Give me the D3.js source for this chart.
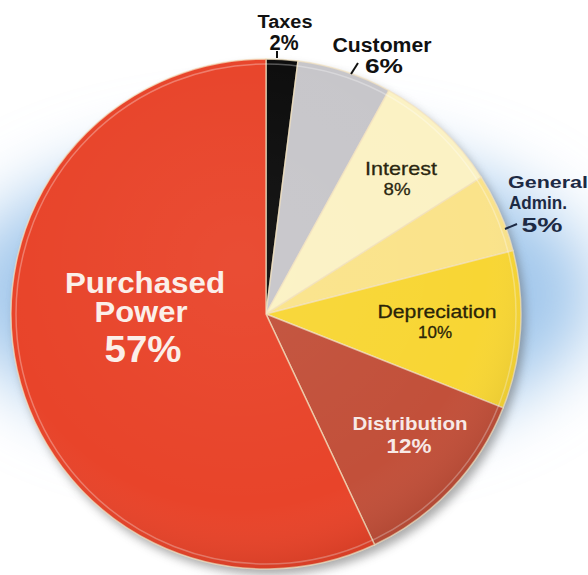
<!DOCTYPE html>
<html>
<head>
<meta charset="utf-8">
<script src="https://cdn.jsdelivr.net/npm/d3@7"></script>
<style>
  body { margin: 0; background: #fff; }
  svg { display: block; }
</style>
</head>
<body>
<svg width="588" height="575"></svg>
<script>
// slices, clockwise from 12 o'clock
var names = ['Taxes', 'Customer', 'Interest', 'General|Admin.', 'Depreciation', 'Distribution', 'Purchased|Power']
var values = [2, 6, 8, 5, 10, 12, 57]
var colors = ['#0c0c0c', '#c7c6ca', '#fbf2c4', '#fae38a', '#f8d634', '#c2503a', '#e8442a']

var svg = d3.select('svg')
var cx = 266, cy = 314, r = 255

var defs = svg.append('defs')
defs.append('filter').attr('id', 'glow').attr('x', '-50%').attr('y', '-50%').attr('width', '200%').attr('height', '200%')
  .append('feGaussianBlur').attr('stdDeviation', 34)
defs.append('filter').attr('id', 'shadow').attr('x', '-20%').attr('y', '-20%').attr('width', '140%').attr('height', '140%')
  .append('feGaussianBlur').attr('stdDeviation', 5)

var shade = defs.append('radialGradient').attr('id', 'shade')
  .attr('cx', '45%').attr('cy', '40%').attr('r', '60%')
shade.append('stop').attr('offset', '0%').attr('stop-color', '#fff').attr('stop-opacity', 0.05)
shade.append('stop').attr('offset', '80%').attr('stop-color', '#fff').attr('stop-opacity', 0)
shade.append('stop').attr('offset', '100%').attr('stop-color', '#000').attr('stop-opacity', 0.07)

// blue halo behind the pie
svg.append('ellipse')
  .attr('cx', cx + 10).attr('cy', cy - 20).attr('rx', 320).attr('ry', 150)
  .attr('fill', '#a3c8ec')
  .attr('filter', 'url(#glow)')

// drop shadow
svg.append('circle')
  .attr('cx', cx + 4).attr('cy', cy + 6).attr('r', r)
  .attr('fill', '#666').attr('opacity', 0.55)
  .attr('filter', 'url(#shadow)')

var pie = d3.pie().sort(null).value(function(d){ return d })
var arcs = pie(values)
var arc = d3.arc().innerRadius(0).outerRadius(r)

var g = svg.append('g').attr('transform', 'translate(' + cx + ',' + cy + ')')

g.selectAll('path.slice')
  .data(arcs)
  .enter()
  .append('path')
  .attr('class', 'slice')
  .attr('d', arc)
  .attr('fill', function(d, i){ return colors[i] })
  .attr('stroke', '#f3e3c0')
  .attr('stroke-opacity', 0.7)
  .attr('stroke-width', 1.5)

// light rim inside the edge
g.append('circle').attr('r', r - 5)
  .attr('fill', 'none').attr('stroke', '#fff').attr('stroke-opacity', 0.3).attr('stroke-width', 1.5)
g.append('circle').attr('r', r).attr('fill', 'url(#shade)')

// label layout per slice: one entry per line [centre x, baseline, font size, width]
var layout = [
  { fill: '#111', weight: 'bold', stroke: 0, lines: [[285, 28, 18, 55], [284, 50, 22, 29]] },
  { fill: '#111', weight: 'bold', stroke: 0, lines: [[382, 52, 20, 99], [384, 73, 20, 38]] },
  { fill: '#2a2610', weight: 'normal', stroke: 0.3, lines: [[401, 175, 19, 72], [397, 195, 17, 27]] },
  { fill: '#1d2a44', weight: 'bold', stroke: 0, lines: [[548, 188, 17, 80], [538, 209, 18, 58], [542, 232, 20, 41]] },
  { fill: '#2a2408', weight: 'normal', stroke: 0.3, lines: [[437, 318, 19, 119], [435, 338, 17, 34]] },
  { fill: '#f7e9e6', weight: 'bold', stroke: 0, lines: [[410, 430, 18, 115], [409, 453, 21, 45]] },
  { fill: '#fbefe9', weight: 'bold', stroke: 0, lines: [[145, 293, 30, 160], [141, 322, 29, 93], [143, 362, 37, 77]] }
]

names.forEach(function(n, i){
  var texts = n.split('|').concat([values[i] + '%'])
  var l = layout[i]
  svg.append('g')
    .selectAll('text')
    .data(texts)
    .enter()
    .append('text')
    .attr('x', function(d, j){ return l.lines[j][0] })
    .attr('y', function(d, j){ return l.lines[j][1] })
    .attr('font-size', function(d, j){ return l.lines[j][2] })
    .attr('textLength', function(d, j){ return l.lines[j][3] })
    .attr('lengthAdjust', 'spacingAndGlyphs')
    .attr('text-anchor', 'middle')
    .attr('font-family', 'Liberation Sans, Arial, sans-serif')
    .attr('font-weight', l.weight)
    .attr('fill', l.fill)
    .attr('stroke', l.stroke ? l.fill : 'none')
    .attr('stroke-width', l.stroke)
    .text(function(d){ return d })
})

// little leader ticks
var ticks = [[277, 51, 277, 58, '#111'], [351, 74, 358, 63, '#111'], [505, 229, 517, 224, '#1d2a44']]
svg.selectAll('line.tick')
  .data(ticks)
  .enter()
  .append('line')
  .attr('x1', function(d){ return d[0] }).attr('y1', function(d){ return d[1] })
  .attr('x2', function(d){ return d[2] }).attr('y2', function(d){ return d[3] })
  .attr('stroke', function(d){ return d[4] })
  .attr('stroke-width', 2)
</script>
</body>
</html>
